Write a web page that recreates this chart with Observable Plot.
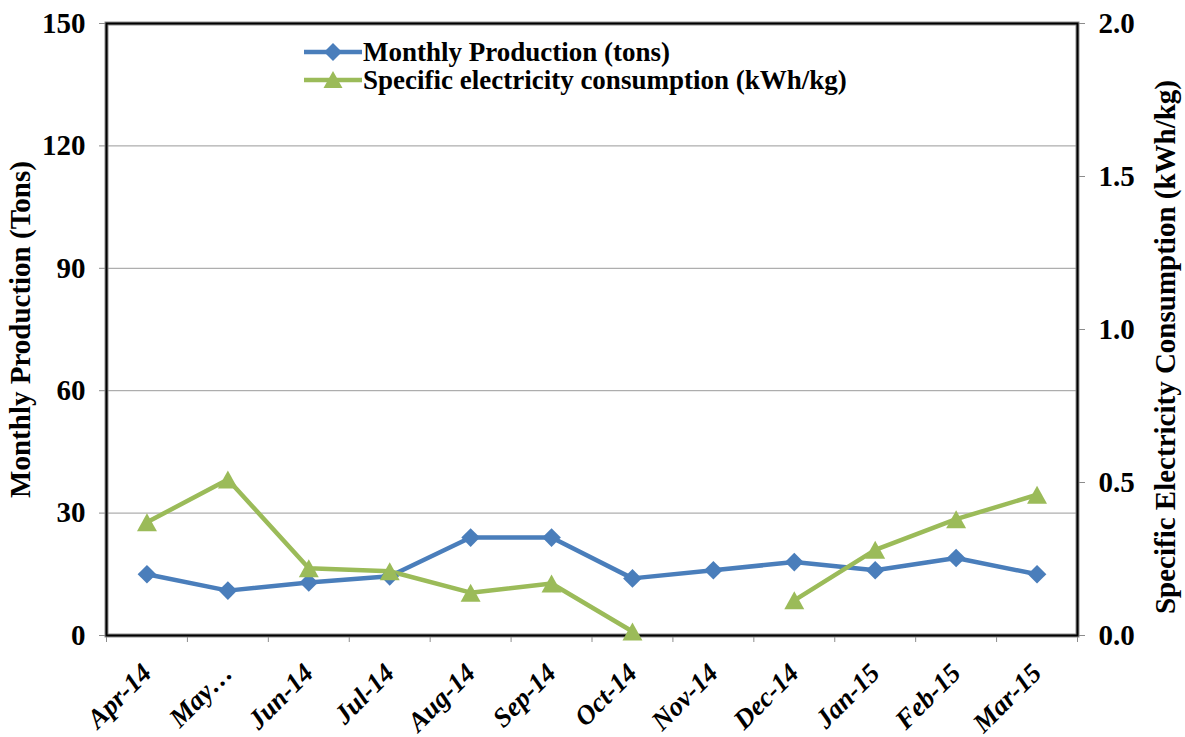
<!DOCTYPE html>
<html><head><meta charset="utf-8">
<script src="https://cdn.jsdelivr.net/npm/d3@7"></script>
<script src="https://cdn.jsdelivr.net/npm/@observablehq/plot@0.6"></script>
<style>
body{margin:0;background:#fff;}
#wrap{position:relative;width:1185px;height:737px;font-family:"Liberation Serif","Times New Roman",serif;}
#legend{position:absolute;left:304px;top:38px;font-weight:bold;font-size:27px;color:#000;}
.row{display:flex;align-items:center;height:28px;white-space:nowrap;}
.row svg{margin-right:1px;}
#rtitle{position:absolute;left:1165px;top:347px;transform:translate(-50%,-50%) rotate(-90deg);white-space:nowrap;font-weight:bold;font-size:29px;color:#000;line-height:1;}
</style></head><body><div id="wrap"><div id="legend"></div><div id="rtitle"></div></div>
<script>
// ---- data ----
const months = ["Apr-14","May-14","Jun-14","Jul-14","Aug-14","Sep-14","Oct-14","Nov-14","Dec-14","Jan-15","Feb-15","Mar-15"];
const monthLabels = ["Apr-14","May…","Jun-14","Jul-14","Aug-14","Sep-14","Oct-14","Nov-14","Dec-14","Jan-15","Feb-15","Mar-15"];
const production = [15, 11, 13, 14.5, 24, 24, 14, 16, 18, 16, 19, 15];
const electricity = [0.37, 0.51, 0.22, 0.21, 0.14, 0.17, 0.013, null, 0.115, 0.28, 0.38, 0.46];
const leftTicks = [0, 30, 60, 90, 120, 150];
const rightTicks = [0, 0.5, 1.0, 1.5, 2.0];
const seriesNames = ["Monthly Production (tons)", "Specific electricity consumption (kWh/kg)"];
const leftTitle = "Monthly Production (Tons)";
const rightTitle = "Specific Electricity Consumption (kWh/kg)";
const colors = ["#4A7EBB", "#9BBB59"];

const leftMax = 150, rightMax = 2.0;
const ratio = leftMax / rightMax;

const table = months.map((m, i) => ({
  i, month: m,
  prod: production[i],
  elec: electricity[i] == null ? NaN : electricity[i] * ratio
}));

// triangle centred on its bounding box (Excel style)
const triBox = {
  draw(ctx, size) {
    const r = Math.sqrt(size / Math.PI);
    const hw = r * 1.05, hh = r * 0.95;
    ctx.moveTo(0, -hh);
    ctx.lineTo(hw, hh);
    ctx.lineTo(-hw, hh);
    ctx.closePath();
  }
};

const xPos = d => d.i + 0.5;

const chart = Plot.plot({
  width: 1185,
  height: 737,
  marginLeft: 106,
  marginRight: 108,
  marginTop: 23,
  marginBottom: 102,
  style: {fontFamily: '"Liberation Serif","Times New Roman",serif', fontWeight: "bold", color: "#000", background: "#fff"},
  x: {type: "linear", domain: [0, months.length]},
  y: {domain: [0, leftMax]},
  marks: [
    Plot.gridY(leftTicks.filter(t => t > 0 && t < leftMax), {stroke: "#9a9a9a", strokeOpacity: 1, strokeWidth: 1}),
    Plot.axisY(leftTicks, {anchor: "left", tickSize: 7, tickPadding: 14, stroke: "#8c8c8c", fontSize: 29,
      label: null}),
    Plot.axisY({anchor: "left", ticks: [], label: leftTitle, labelAnchor: "center", labelOffset: 97, labelArrow: "none", fontSize: 29}),
    Plot.axisY(rightTicks.map(t => t * ratio), {anchor: "right", tickSize: 7, tickPadding: 14, stroke: "#8c8c8c", fontSize: 29,
      tickFormat: d => (d / ratio).toFixed(1), label: null}),
    Plot.axisX(d3.range(months.length + 1), {anchor: "bottom", tickSize: 7, stroke: "#8c8c8c", tickFormat: () => "", label: null}),
    Plot.axisX(months.map((m, i) => i + 0.5), {anchor: "bottom", tickSize: 0, tickPadding: 33, tickRotate: -45,
      fontSize: 27, fontStyle: "italic", tickFormat: d => monthLabels[Math.round(d - 0.5)], label: null}),
    Plot.frame({stroke: "#8c8c8c", strokeWidth: 4}),
    Plot.frame({stroke: "#000", strokeWidth: 2}),
    Plot.line(table, {x: xPos, y: "prod", stroke: colors[0], strokeWidth: 4.5}),
    Plot.line(table, {x: xPos, y: "elec", stroke: colors[1], strokeWidth: 4.5}),
    Plot.dot(table, {x: xPos, y: "prod", symbol: "diamond2", r: 8.4, fill: colors[0], stroke: null}),
    Plot.dot(table.filter(d => !isNaN(d.elec)), {x: xPos, y: "elec", symbol: triBox, r: 9.5, fill: colors[1], stroke: null})
  ]
});
document.getElementById("wrap").prepend(chart);
document.getElementById("rtitle").textContent = rightTitle;

// legend
const legend = document.getElementById("legend");
const symPaths = [
  "M29,3 L38,12 L29,21 L20,12 Z",
  "M29,3 L38.5,20 L19.5,20 Z"
];
seriesNames.forEach((name, k) => {
  const row = document.createElement("div");
  row.className = "row";
  row.innerHTML = `<svg width="58" height="24"><line x1="0" x2="58" y1="12" y2="12" stroke="${colors[k]}" stroke-width="4.5"/><path d="${symPaths[k]}" fill="${colors[k]}"/></svg><span>${name}</span>`;
  legend.appendChild(row);
});
</script>
</body></html>
